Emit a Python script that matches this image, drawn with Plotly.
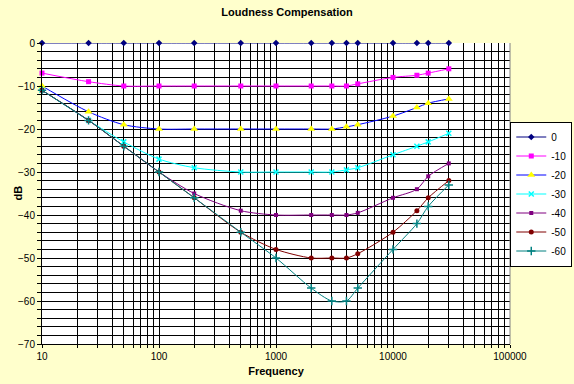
import plotly.graph_objects as go

freqs = [10, 25, 50, 100, 200, 500, 1000, 2000, 3000, 4000, 5000, 10000, 16000, 20000, 30000]
s_0 = [0, 0, 0, 0, 0, 0, 0, 0, 0, 0, 0, 0, 0, 0, 0]
s_10 = [-7, -9, -10, -10, -10, -10, -10, -10, -10, -10, -9.5, -8, -7.5, -7, -6]
s_20 = [-10, -16, -19, -20, -20, -20, -20, -20, -20, -19.5, -19, -17, -15, -14, -13]
s_30 = [-11, -18, -23, -27, -29, -30, -30, -30, -30, -29.5, -29, -26, -24, -23, -21]
s_40 = [-11, -18, -24, -30, -35, -39, -40, -40, -40, -40, -39.5, -36, -34, -31, -28]
s_50 = [-11, -18, -24, -30, -36, -44, -48, -50, -50, -50, -49, -44, -39, -36, -32]
s_60 = [-11, -18, -24, -30, -36, -44, -50, -57, -60, -60, -57, -48, -42, -38, -33]
series_names = ["0", "-10", "-20", "-30", "-40", "-50", "-60"]
series_vals = [s_0, s_10, s_20, s_30, s_40, s_50, s_60]

x_ticks = [m * 10 ** e for e in range(1, 5) for m in range(1, 10)] + [100000]
x_ticktext = [str(v) if str(v).strip("0") == "1" else "" for v in x_ticks]

styles = [
    dict(line="#000080", marker=dict(symbol="diamond", size=5, color="#000080")),
    dict(line="#FF00FF", marker=dict(symbol="square", size=5, color="#FF00FF")),
    dict(line="#0000FF", marker=dict(symbol="triangle-up", size=7, color="#FFFF00")),
    dict(line="#00FFFF", marker=dict(symbol="x-thin", size=5, color="#00FFFF",
                                      line=dict(color="#00FFFF", width=1.5))),
    dict(line="#800080", marker=dict(symbol="square", size=4, color="#800080")),
    dict(line="#800000", marker=dict(symbol="circle", size=5, color="#800000")),
    dict(line="#008080", marker=dict(symbol="cross-thin", size=6, color="#008080",
                                      line=dict(color="#008080", width=1.5))),
]

font = "Liberation Sans, Arial, sans-serif"
fig = go.Figure()
for name, vals, st in zip(series_names, series_vals, styles):
    fig.add_trace(go.Scatter(
        x=freqs, y=vals, name=name, mode="lines+markers",
        line=dict(color=st["line"], width=1, shape="spline", smoothing=0.8),
        marker=st["marker"], cliponaxis=False,
    ))

fig.update_layout(
    width=574, height=384,
    margin=dict(l=42, r=64, t=43, b=40, autoexpand=False),
    paper_bgcolor="#FFFFCC", plot_bgcolor="#FFFFFF",
    font=dict(family=font, size=10, color="black"),
    title=dict(text="<b>Loudness Compensation</b>", x=0.5, xanchor="center",
               y=1 - 12 / 384, yanchor="middle", yref="container",
               font=dict(size=11, family=font)),
    legend=dict(xref="container", yref="container", x=0.997, xanchor="right",
                y=1 - 194 / 384, yanchor="middle",
                bgcolor="#FFFFFF", bordercolor="black", borderwidth=1,
                font=dict(size=10), itemwidth=30, tracegroupgap=0),
    showlegend=True,
)

fig.update_xaxes(
    type="log", range=[1, 5], tickvals=x_ticks, ticktext=x_ticktext,
    automargin=False,
    showgrid=True, gridcolor="black", gridwidth=1,
    showline=True, linecolor="black", linewidth=1,
    ticks="outside", ticklen=3, tickcolor="black", zeroline=False,
    title=dict(text="<b>Frequency</b>", font=dict(size=11), standoff=6),
)
fig.update_yaxes(
    range=[-70, 0], dtick=10, showgrid=True, gridcolor="black", gridwidth=1,
    automargin=False,
    showline=True, linecolor="black", linewidth=1, zeroline=False,
    ticks="outside", ticklen=4, tickcolor="black",
    minor=dict(dtick=2, showgrid=True, gridcolor="black", gridwidth=1,
               ticks="outside", ticklen=4, tickcolor="black"),
)
fig.add_annotation(text="<b>dB</b>", xref="paper", yref="paper",
                   x=(17 - 42) / 468, y=0.5, xanchor="center", yanchor="middle",
                   textangle=-90, showarrow=False, font=dict(size=11))
fig.add_shape(type="line", xref="paper", yref="paper", x0=1, x1=1, y0=0, y1=1,
              line=dict(color="#808080", width=1), layer="above")

fig.write_html("out.html", config={"displayModeBar": False},
               post_script="document.body.style.margin='0';document.body.style.background='#FFFFCC';")
